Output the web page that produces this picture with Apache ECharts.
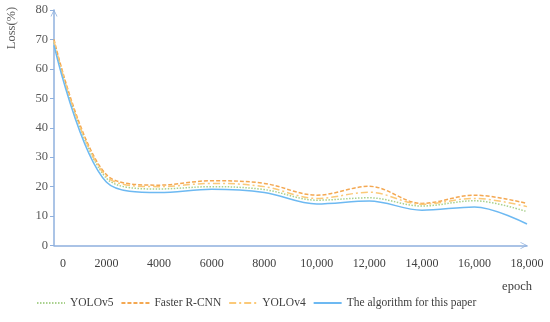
<!DOCTYPE html>
<html><head><meta charset="utf-8">
<script src="https://cdn.jsdelivr.net/npm/echarts@6/dist/echarts.min.js"></script>
<style>html,body{margin:0;padding:0;background:#fff}#c{width:550px;height:322px}</style>
</head><body><div id="c"></div>
<script>
var epochs = [0, 2000, 4000, 6000, 8000, 10000, 12000, 14000, 16000, 18000];
var yolov5   = [69, 22.8, 19.2, 20, 19, 15.4, 16.2, 13.4, 15.2, 11.5];
var faster   = [70, 24, 20.5, 22, 21.1, 17.1, 20.1, 14.3, 17.1, 14.3];
var yolov4   = [69.5, 23.4, 20, 21.1, 20, 16, 18.1, 14, 16, 13.2];
var ours     = [68, 21.5, 18, 19.1, 18, 14.1, 15.1, 12, 13.1, 7.3];
var seriesNames = ['YOLOv5', 'Faster R-CNN', 'YOLOv4', 'The algorithm for this paper'];
var yTicks = [0, 10, 20, 30, 40, 50, 60, 70, 80];

function pairs(arr){ return arr.map(function(v,i){ return [epochs[i], v]; }); }
var font = 'Liberation Serif';
var axisColor = '#8fb0de';
var chevron = 'path://M0,10 L5,0 L10,10 L8.8,10 L5,2.2 L1.2,10 Z';
var chart = echarts.init(document.getElementById('c'));
chart.setOption({
  animation: false,
  grid: {left: 54, right: 23, top: 10, bottom: 76.5, containLabel: false},
  graphic: [
    {type: 'text', x: 12, y: 28, rotation: Math.PI / 2,
     style: {text: 'Loss(%)', font: '12.5px "Liberation Serif"', fill: '#595959', textAlign: 'center', textVerticalAlign: 'middle'}},
    {type: 'text', x: 517, y: 287,
     style: {text: 'epoch', font: '12.5px "Liberation Serif"', fill: '#404040', textAlign: 'center', textVerticalAlign: 'middle'}}
  ],
  legend: {
    left: 31, bottom: 8, itemWidth: 28, itemHeight: 10, itemGap: 7,
    itemStyle: {opacity: 0},
    textStyle: {fontFamily: font, fontSize: 11.5, color: '#404040'},
    data: seriesNames
  },
  xAxis: {
    type: 'value', min: 0, max: 18000, interval: 2000,
    splitLine: {show: false},
    axisLine: {lineStyle: {color: axisColor, width: 1.5}, symbol: ['none', chevron], symbolSize: [10, 7], symbolOffset: [0, -3]},
    axisTick: {show: false},
    axisLabel: {
      fontFamily: font, fontSize: 12, color: '#404040', margin: 12,
      formatter: function(v){
        if (v === 0) return '{z|0}';
        return v >= 10000 ? String(v).replace(/\B(?=(\d{3})+(?!\d))/g, ',') : String(v);
      },
      rich: {z: {padding: [0, 0, 0, 18], fontFamily: font, fontSize: 12, color: '#404040'}}
    }
  },
  yAxis: {
    type: 'value', min: yTicks[0], max: yTicks[yTicks.length-1], interval: 10,
    splitLine: {show: false},
    axisLine: {show: true, lineStyle: {color: axisColor, width: 1.5}, symbol: ['none', chevron], symbolSize: [10, 7], symbolOffset: [0, -3]},
    axisTick: {show: true, length: 4, lineStyle: {color: axisColor}},
    axisLabel: {fontFamily: font, fontSize: 12.5, color: '#595959', margin: 6}
  },
  series: [
    {name: seriesNames[0], type: 'line', smooth: 0.35, symbol: 'none', data: pairs(yolov5),
     lineStyle: {color: '#a9d18e', width: 1.5, type: [1.5, 1.5]}, itemStyle: {color: '#a9d18e'}},
    {name: seriesNames[1], type: 'line', smooth: 0.35, symbol: 'none', data: pairs(faster),
     lineStyle: {color: '#f4a852', width: 1.5, type: [4, 2]}, itemStyle: {color: '#f4a852'}},
    {name: seriesNames[2], type: 'line', smooth: 0.35, symbol: 'none', data: pairs(yolov4),
     lineStyle: {color: '#fbc978', width: 1.5, type: [7, 3, 2, 3]}, itemStyle: {color: '#fbc978'}},
    {name: seriesNames[3], type: 'line', smooth: 0.35, symbol: 'none', data: pairs(ours),
     lineStyle: {color: '#6db9f2', width: 1.5, type: 'solid'}, itemStyle: {color: '#6db9f2'}}
  ]
});
</script></body></html>
